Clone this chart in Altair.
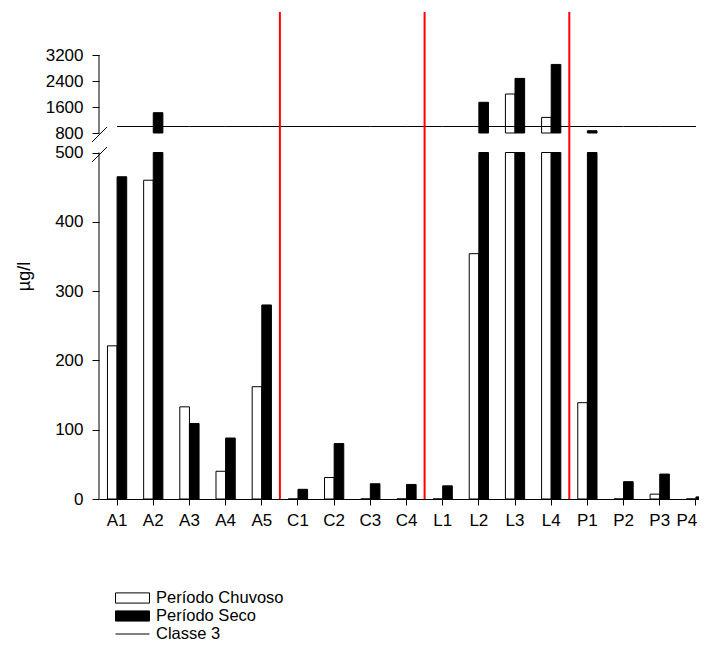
import altair as alt
import pandas as pd

# ---------------- data ----------------
sites = ["A1", "A2", "A3", "A4", "A5", "C1", "C2", "C3", "C4",
         "L1", "L2", "L3", "L4", "P1", "P2", "P3", "P4"]
chuvoso = [221, 460, 133, 40, 162, 0, 31, 0, 0, 0, 354, 2000, 1280, 139, 0, 7, 0]
seco = [465, 1425, 109, 88, 280, 14, 80, 22, 21, 19, 1745, 2480, 2910, 870, 25, 36, 3]
classe3_value = 1000
low_ticks = [0, 100, 200, 300, 400, 500]
high_ticks = [800, 1600, 2400, 3200]
group_breaks = ["C1", "L1", "P1"]
legend_labels = ["Período Chuvoso", "Período Seco", "Classe 3"]

# ---------------- broken-axis geometry (pixels above baseline) ----------------
PLOT_W = 600
PLOT_H = 487
BAND_RANGE = 615
LOW_MAX = 500
LOW_K = 0.693
HIGH_MIN = 800
HIGH_MAX = 3200
HIGH_BASE = 366
HIGH_K = 0.0325
FS = 17


def low_expr(f):
    return f"min({f}, {LOW_MAX}) * {LOW_K}"


def high_expr(f):
    return f"{HIGH_BASE} + ({f} - {HIGH_MIN}) * {HIGH_K}"


tick_vals = [v * LOW_K for v in low_ticks] + [HIGH_BASE + (v - HIGH_MIN) * HIGH_K for v in high_ticks]
label_expr = (f"datum.value < {HIGH_BASE - 5} ? format(datum.value / {LOW_K}, '.0f') : "
              f"format((datum.value - {HIGH_BASE}) / {HIGH_K} + {HIGH_MIN}, '.0f')")

bars_df = pd.DataFrame({
    "site": sites * 2,
    "periodo": ["Chuvoso"] * len(sites) + ["Seco"] * len(sites),
    "v": chuvoso + seco,
})
line_df = pd.DataFrame({"site": sites, "v": [classe3_value] * len(sites)})
breaks_df = pd.DataFrame({"site": group_breaks})
axis_df = pd.DataFrame({"lo": [0, HIGH_MIN], "hi": [LOW_MAX, HIGH_MAX]})
slash_df = pd.DataFrame({"v": [LOW_MAX, HIGH_MIN]})
legend_df = pd.DataFrame({"serie": legend_labels})

x_scale = alt.Scale(domain=sites, range=[0, {"expr": str(BAND_RANGE)}],
                    paddingInner=0, paddingOuter=0)
y_scale = alt.Scale(domain=[0, PLOT_H], nice=False, zero=True)

x_axis = alt.Axis(title=None, labelFontSize=FS, labelColor="black", tickColor="black",
                  tickSize=6, domainColor="black", labelPadding=7, labelAngle=0, grid=False,
                  labelOffset={"condition": {"test": f"datum.value === '{sites[-1]}'", "value": -9},
                               "value": 0})
y_axis = alt.Axis(values=tick_vals, labelExpr=label_expr, title="µg/l",
                  titleX=-70, titleY=264, titleAngle=270, titleBaseline="alphabetic",
                  titleAlign="center", titleFontSize=18, titleFontWeight="normal",
                  titleColor="black", labelFontSize=FS, labelColor="black",
                  tickColor="black", tickSize=7, labelPadding=9, domain=False, grid=False)

x_enc = alt.X("site:N", sort=sites, scale=x_scale, axis=x_axis)
xoff = alt.XOffset("periodo:N", sort=["Chuvoso", "Seco"],
                   scale=alt.Scale(paddingInner=0, paddingOuter=0.88))
fill_cond = alt.condition("datum.periodo == 'Chuvoso'", alt.value("white"), alt.value("black"))

lower = alt.Chart(bars_df).transform_calculate(
    ylo=low_expr("datum.v")
).mark_bar(stroke="black", strokeWidth=1).encode(
    x=x_enc, xOffset=xoff,
    y=alt.Y("ylo:Q", scale=y_scale, axis=y_axis),
    y2=alt.datum(0),
    fill=fill_cond,
)

upper = alt.Chart(bars_df).transform_filter(
    f"datum.v > {HIGH_MIN}"
).transform_calculate(
    yhi=high_expr("datum.v")
).mark_bar(stroke="black", strokeWidth=1).encode(
    x=x_enc, xOffset=xoff,
    y=alt.Y("yhi:Q", scale=y_scale, axis=y_axis),
    y2=alt.datum(HIGH_BASE),
    fill=fill_cond,
)

axis_lines = alt.Chart(axis_df).transform_calculate(
    y1=f"datum.lo >= {HIGH_MIN} ? {high_expr('datum.lo')} : {low_expr('datum.lo')}",
    y2=f"datum.hi > {LOW_MAX} ? {high_expr('datum.hi')} : {low_expr('datum.hi')}",
).mark_rule(color="black", strokeWidth=1).encode(
    x=alt.value(0), y=alt.Y("y1:Q", scale=y_scale, axis=y_axis), y2="y2:Q"
)

slashes = alt.Chart(slash_df).transform_calculate(
    yc=f"datum.v > {LOW_MAX} ? {HIGH_BASE} - 1.5 : {low_expr('datum.v')} - 2",
    ya="datum.yc - 7.5",
    yb="datum.yc + 7.5",
).mark_rule(color="black", strokeWidth=1).encode(
    x=alt.value(-7), x2=alt.value(8), y=alt.Y("ya:Q", scale=y_scale, axis=y_axis), y2="yb:Q"
)

classe = alt.Chart(line_df).transform_calculate(
    yd=high_expr("datum.v")
).mark_line(color="black", strokeWidth=1).encode(
    x=x_enc, y=alt.Y("yd:Q", scale=y_scale, axis=y_axis)
)

red = alt.Chart(breaks_df).mark_rule(color="#ff0000", strokeWidth=2).encode(
    x=alt.X("site:N", sort=sites, scale=x_scale, axis=x_axis, bandPosition=0),
    y=alt.value(0), y2=alt.value(PLOT_H),
)

rect_path = "M-2,-0.6H2V0.6H-2Z"
line_path = "M-2,0H2"
legend_def = alt.Legend(title=None, orient="none", legendX=24.5, legendY=577,
                        symbolSize=289, symbolStrokeWidth=1,
                        symbolOpacity=1, labelFontSize=16.5, labelColor="black",
                        labelOffset=14.5, rowPadding=0, padding=0)
leg = alt.Chart(legend_df).mark_point(filled=False).encode(
    shape=alt.Shape("serie:N", sort=legend_labels,
                    scale=alt.Scale(domain=legend_labels, range=[rect_path, rect_path, line_path]),
                    legend=legend_def),
    fill=alt.Fill("serie:N", sort=legend_labels,
                  scale=alt.Scale(domain=legend_labels, range=["white", "black", "transparent"]),
                  legend=legend_def),
    stroke=alt.Stroke("serie:N", sort=legend_labels,
                      scale=alt.Scale(domain=legend_labels, range=["black", "black", "black"]),
                      legend=legend_def),
    opacity=alt.value(0),
)

chart = alt.layer(lower, upper, axis_lines, slashes, classe, red, leg).properties(
    width=PLOT_W, height=PLOT_H,
    padding={"left": 91, "top": 4, "right": 0, "bottom": 142},
    autosize=alt.AutoSizeParams(type="none"),
).configure(font="Liberation Sans").configure_view(strokeWidth=0)

chart.save("out.html", embed_options={"renderer": "svg", "actions": False})
